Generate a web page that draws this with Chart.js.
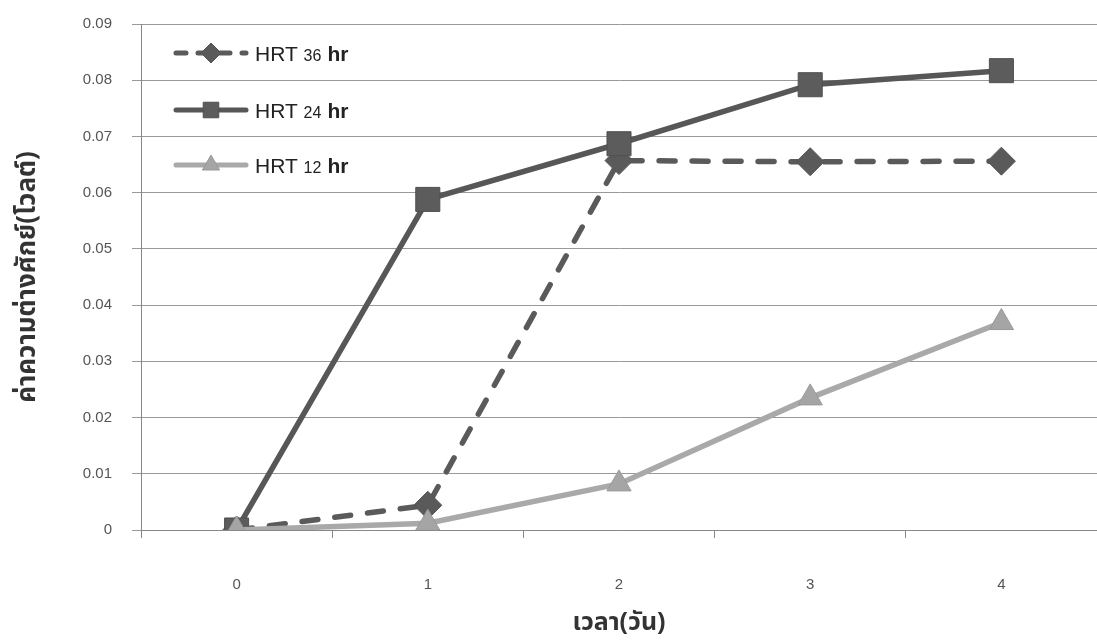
<!DOCTYPE html>
<html><head><meta charset="utf-8">
<script src="https://cdn.jsdelivr.net/npm/chart.js@4/dist/chart.umd.min.js"></script>
<style>html,body{margin:0;padding:0;background:#fff;overflow:hidden}#wrap{width:1097px;height:640px}canvas{display:block}</style>
</head><body><div id="wrap"><canvas id="c" width="1097" height="640"></canvas></div>
<script>
const categories = ['0', '1', '2', '3', '4'];
const hrt36 = [0, 0.0044, 0.0657, 0.0655, 0.0656];
const hrt24 = [0, 0.0588, 0.0687, 0.0792, 0.0817];
const hrt12 = [0, 0.0012, 0.0082, 0.0235, 0.0369];
const legendNums = ['36', '24', '12'];
const xTitle = 'เวลา(วัน)';
const yTitle = 'ค่าความต่างศักย์(โวลต์)';
const yMin = 0, yMax = 0.09, yStep = 0.01;

const thaiFont = '"Noto Sans Thai", "Noto Sans Thai UI", Loma, Garuda, "Tlwg Typo", Kinnari, "Noto Sans", "DejaVu Sans", sans-serif';
const latinFont = '"Liberation Sans", Arial, sans-serif';

function drawMarker(ctx, style, x, y, r, fill, stroke, lw) {
  ctx.save();
  ctx.fillStyle = fill; ctx.strokeStyle = stroke; ctx.lineWidth = lw;
  ctx.setLineDash([]);
  ctx.beginPath();
  if (style === 'rect') {
    const s = r * Math.SQRT1_2;
    ctx.rect(x - s, y - s, 2 * s, 2 * s);
  } else if (style === 'rectRot') {
    ctx.moveTo(x - r, y); ctx.lineTo(x, y - r); ctx.lineTo(x + r, y); ctx.lineTo(x, y + r); ctx.closePath();
  } else {
    const a = Math.PI * 2 / 3;
    ctx.moveTo(x, y - r);
    ctx.lineTo(x + Math.sin(a) * r, y - Math.cos(a) * r);
    ctx.lineTo(x + Math.sin(2 * a) * r, y - Math.cos(2 * a) * r);
    ctx.closePath();
  }
  ctx.fill(); ctx.stroke();
  ctx.restore();
}

const legendPlugin = {
  id: 'customLegend',
  afterDraw(chart) {
    const ctx = chart.ctx;
    const rows = [53, 110, 165];
    const mr = [10, 11, 10];
    chart.data.datasets.forEach((ds, i) => {
      const y = rows[i];
      ctx.save();
      ctx.strokeStyle = ds.borderColor;
      ctx.lineWidth = 5;
      ctx.lineCap = 'round';
      ctx.setLineDash(ds.borderDash ? [10, 12] : []);
      ctx.beginPath(); ctx.moveTo(176, y); ctx.lineTo(246, y); ctx.stroke();
      ctx.restore();
      drawMarker(ctx, ds.pointStyle, 211, y, mr[i], ds.pointBackgroundColor, ds.pointBorderColor, 1);
      ctx.save();
      ctx.fillStyle = '#222';
      ctx.textBaseline = 'alphabetic';
      let x = 255;
      const base = y + 8;
      ctx.font = '21px ' + latinFont;
      ctx.fillText('HRT', x, base);
      x += ctx.measureText('HRT ').width;
      ctx.font = '16px ' + latinFont;
      ctx.fillText(legendNums[i], x, base);
      x += ctx.measureText(legendNums[i]).width + 6;
      ctx.font = 'bold 21px ' + latinFont;
      ctx.fillText('hr', x, base);
      ctx.restore();
    });
  }
};

function zeroPad(s) { s.paddingTop = 0; s.paddingBottom = 0; s.paddingLeft = 0; s.paddingRight = 0; }

new Chart(document.getElementById('c'), {
  type: 'line',
  data: {
    labels: categories,
    datasets: [
      {
        label: 'HRT 36 hr', data: hrt36, order: 3,
        borderColor: '#5a5a5a', borderWidth: 5.5, borderDash: [16, 17], borderCapStyle: 'round',
        pointStyle: 'rectRot', pointRadius: 14, pointHoverRadius: 14,
        pointBackgroundColor: '#5a5a5a', pointBorderColor: '#555', pointBorderWidth: 1
      },
      {
        label: 'HRT 24 hr', data: hrt24, order: 2,
        borderColor: '#575757', borderWidth: 5.5,
        pointStyle: 'rect', pointRadius: 17, pointHoverRadius: 17,
        pointBackgroundColor: '#5c5c5c', pointBorderColor: '#505050', pointBorderWidth: 1
      },
      {
        label: 'HRT 12 hr', data: hrt12, order: 1,
        borderColor: '#a9a9a9', borderWidth: 5.5,
        pointStyle: 'triangle', pointRadius: 14, pointHoverRadius: 14,
        pointBackgroundColor: '#a5a5a5', pointBorderColor: '#999', pointBorderWidth: 1
      }
    ]
  },
  options: {
    responsive: false,
    animation: false,
    devicePixelRatio: 1,
    layout: { autoPadding: false, padding: { top: 24, right: 0, bottom: 0, left: 0 } },
    plugins: { legend: { display: false }, tooltip: { enabled: false } },
    scales: {
      x: {
        offset: true,
        grid: { offset: true, drawOnChartArea: false, drawTicks: true, tickLength: 8, color: '#888' },
        border: { display: true, color: '#888' },
        ticks: { font: { size: 15, family: latinFont }, color: '#555', padding: 38 },
        title: { display: true, text: xTitle, font: { size: 25, weight: 'bold', family: thaiFont, lineHeight: 1.2 }, color: '#333', padding: { top: 5, bottom: 0 } },
        afterFit(s) { s.height = 110; zeroPad(s); }
      },
      y: {
        min: yMin, max: yMax,
        grid: { color: '#999', tickLength: 9 },
        border: { display: true, color: '#888' },
        ticks: {
          stepSize: yStep, font: { size: 15, family: latinFont }, color: '#555', padding: 20,
          callback: v => (Math.abs(v) < 1e-9 ? '0' : v.toFixed(2))
        },
        title: { display: true, text: yTitle, font: { size: 26, weight: 'bold', family: thaiFont, lineHeight: 1.2 }, color: '#333', padding: { top: 14, bottom: 0 } },
        afterFit(s) { s.width = 141; zeroPad(s); }
      }
    }
  },
  plugins: [legendPlugin]
});
</script></body></html>
